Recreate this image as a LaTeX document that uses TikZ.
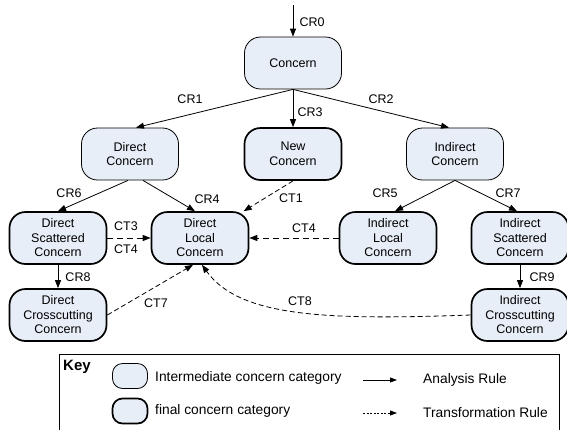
\documentclass[tikz,border=0pt]{standalone}
\usepackage{fontspec}
\setmainfont{Liberation Sans}
\usetikzlibrary{arrows.meta}
\definecolor{boxfill}{HTML}{E8EEF7}
\begin{document}
\begin{tikzpicture}[x=1pt,y=-1pt,
  every node/.style={font=\fontsize{12.5}{14.5}\selectfont},
  concept/.style={draw, rounded corners=16pt, fill=boxfill, minimum width=97pt, minimum height=52pt, inner sep=0pt, align=center},
  inter/.style={concept, line width=0.8pt},
  final/.style={concept, line width=1.7pt},
  rule/.style={line width=0.8pt, -{Triangle[length=8pt,width=6pt]}},
  trans/.style={rule, dash pattern=on 5pt off 3pt},
  transb/.style={rule, line width=1pt, dash pattern=on 6pt off 4pt},
  lbl/.style={inner sep=0pt},
  keyfont/.style={font=\fontsize{13.8}{16}\selectfont},
  ktext/.style={keyfont, anchor=west, inner sep=0pt},
  kbox/.style={draw, rounded corners=10pt, fill=boxfill, minimum width=35pt, minimum height=25pt, inner sep=0pt}]
\useasboundingbox (0,0) rectangle (567,429);

% concern nodes
\node[inter] (c) at (293,63) {Concern};
\node[inter] (dc) at (130,154) {Direct\\Concern};
\node[final] (nc) at (293,154) {New\\Concern};
\node[inter] (ic) at (455,154) {Indirect\\Concern};
\node[final] (dsc) at (58,238) {Direct\\Scattered\\Concern};
\node[final] (dl) at (200,238) {Direct\\Local\\Concern};
\node[final] (il) at (388,238) {Indirect\\Local\\Concern};
\node[final] (isc) at (520,238) {Indirect\\Scattered\\Concern};
\node[final] (dcc) at (58,315) {Direct\\Crosscutting\\Concern};
\node[final] (icc) at (520,315) {Indirect\\Crosscutting\\Concern};

% analysis rules
\coordinate (top) at (293,5);
\draw[rule] (top) -- (c.north);
\draw[rule] (c.south) -- ([xshift=6pt]dc.north);
\draw[rule] (c.south) -- (nc.north);
\draw[rule] (c.south) -- ([xshift=-6pt]ic.north);
\draw[rule] ([xshift=-2pt]dc.south) -- (dsc.north);
\draw[rule] ([xshift=13pt]dc.south) -- ([xshift=-5pt]dl.north);
\draw[rule] (ic.south) -- ([xshift=7pt]il.north);
\draw[rule] (ic.south) -- ([xshift=-3pt]isc.north);
\draw[rule] (dsc.south) -- (dcc.north);
\draw[rule] (isc.south) -- (icc.north);

% transformation rules
\draw[trans] (nc.south) -- (dl);
\draw[transb] (dsc.east) -- (dl.west);
\draw[transb] (il.west) -- (dl.east);
\draw[trans] (dcc.east) -- ([xshift=-7pt]dl.south);
\draw[trans] (icc.west) .. controls (330,320) and (240,318) .. ([xshift=2pt]dl.south);

% labels
\node[lbl] (lcr0) at (312,22) {CR0};
\node[lbl] (lcr1) at (190,99) {CR1};
\node[lbl] (lcr2) at (381,99) {CR2};
\node[lbl] (lcr3) at (310,112) {CR3};
\node[lbl] (lcr6) at (69,193) {CR6};
\node[lbl] (lcr4) at (207,199) {CR4};
\node[lbl] (lct1) at (291,198) {CT1};
\node[lbl] (lcr5) at (385,193) {CR5};
\node[lbl] (lcr7) at (508,193) {CR7};
\node[lbl] (lct3) at (126,226) {CT3};
\node[lbl] (lct4a) at (126,249) {CT4};
\node[lbl] (lct4b) at (304,228) {CT4};
\node[lbl] (lcr8) at (78,277) {CR8};
\node[lbl] (lcr9) at (542,277) {CR9};
\node[lbl] (lct7) at (156,303) {CT7};
\node[lbl] (lct8) at (300,301) {CT8};

% key
\draw[line width=0.8pt] (59,354) rectangle (559,445);
\node[anchor=west, inner sep=0pt, font=\bfseries\fontsize{15}{17}\selectfont] (key) at (63,367) {Key};
\node[kbox, line width=0.8pt] (k1) at (130,376) {};
\node[kbox, line width=1.7pt] (k2) at (130,411) {};
\node[ktext] (kt1) at (155,378) {Intermediate concern category};
\node[ktext] (kt2) at (155,411) {final concern category};
\coordinate (a1s) at (363,380);
\coordinate (a1e) at (397,380);
\coordinate (a2s) at (363,413);
\coordinate (a2e) at (397,413);
\draw[line width=0.8pt, -{Triangle[length=7pt,width=5pt]}] (a1s) -- (a1e);
\draw[line width=0.8pt, dash pattern=on 2pt off 1.5pt, -{Triangle[length=7pt,width=5pt]}] (a2s) -- (a2e);
\node[ktext] (kt3) at (423,380) {Analysis Rule};
\node[ktext] (kt4) at (423,413) {Transformation Rule};
\end{tikzpicture}
\end{document}
